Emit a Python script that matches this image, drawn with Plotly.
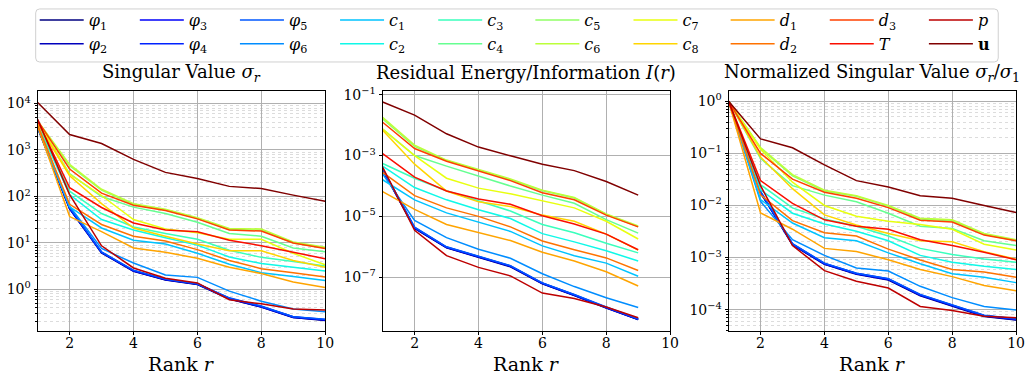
import plotly.graph_objects as go

# ---------------- data ----------------
ranks = [1, 2, 3, 4, 5, 6, 7, 8, 9, 10]
ranks_res = [1, 2, 3, 4, 5, 6, 7, 8, 9]

series_labels = [
    "<i>φ</i><sub>1</sub>", "<i>φ</i><sub>2</sub>", "<i>φ</i><sub>3</sub>",
    "<i>φ</i><sub>4</sub>", "<i>φ</i><sub>5</sub>", "<i>φ</i><sub>6</sub>",
    "<i>c</i><sub>1</sub>", "<i>c</i><sub>2</sub>", "<i>c</i><sub>3</sub>",
    "<i>c</i><sub>4</sub>", "<i>c</i><sub>5</sub>", "<i>c</i><sub>6</sub>",
    "<i>c</i><sub>7</sub>", "<i>c</i><sub>8</sub>",
    "<i>d</i><sub>1</sub>", "<i>d</i><sub>2</sub>", "<i>d</i><sub>3</sub>",
    "<i>T</i>", "<i>p</i>", "<b>u</b>",
]

# Singular value sigma_r
sv_phi1 = [2950, 54, 6.1, 2.45, 1.60, 1.28, 0.62, 0.42, 0.250, 0.215]
sv_phi2 = [3050, 55, 6.2, 2.50, 1.62, 1.30, 0.63, 0.42, 0.250, 0.220]
sv_phi3 = [3150, 56, 6.3, 2.52, 1.64, 1.31, 0.64, 0.43, 0.255, 0.220]
sv_phi4 = [3250, 57, 6.35, 2.55, 1.65, 1.32, 0.65, 0.43, 0.260, 0.225]
sv_phi5 = [3350, 58, 6.4, 2.60, 1.67, 1.33, 0.66, 0.44, 0.260, 0.230]
sv_phi6 = [3000, 62, 7.6, 3.70, 2.05, 1.82, 0.92, 0.56, 0.38, 0.33]
sv_c1 = [3300, 60, 21, 11.5, 9.5, 6.0, 3.5, 2.3, 1.9, 1.55]
sv_c2 = [3500, 110, 32, 19, 13, 9.0, 5.0, 3.6, 3.0, 2.5]
sv_c3 = [3600, 130, 43, 22, 16, 12, 7.0, 4.9, 4.0, 3.2]
sv_c4 = [3900, 310, 100, 59, 43, 28, 16, 14, 7.8, 6.5]
sv_c5 = [4000, 460, 138, 67, 51, 34, 19.5, 19, 10.0, 7.8]
sv_c6 = [4200, 490, 143, 70, 53, 35, 20.5, 20, 10.5, 8.1]
sv_c7 = [4100, 300, 105, 32, 20, 16.5, 12, 12, 6.0, 3.4]
sv_c8 = [3700, 280, 70, 21, 14, 9.5, 6.8, 6.8, 4.2, 3.0]
sv_d1 = [3200, 37, 17.5, 7.8, 6.3, 4.7, 3.0, 2.2, 1.45, 1.1]
sv_d2 = [3400, 68, 25, 14, 11, 7.2, 4.2, 2.8, 2.3, 1.85]
sv_d3 = [4300, 390, 118, 65, 50, 33, 19, 18, 10.0, 7.6]
sv_T = [4200, 155, 58, 27, 19, 17.5, 11.5, 8.7, 6.3, 4.6]
sv_p = [4600, 110, 8.7, 2.9, 1.75, 1.38, 0.60, 0.49, 0.38, 0.36]
sv_u = [10500, 2150, 1380, 630, 330, 245, 165, 148, 107, 79]

# Residual energy / information I(r)
ri_phi1 = [3.3e-4, 4.0e-6, 9.2e-7, 4.4e-7, 2.20e-7, 6.0e-8, 2.50e-8, 9.6e-9, 4.0e-9]
ri_phi2 = [3.4e-4, 4.1e-6, 9.4e-7, 4.5e-7, 2.25e-7, 6.1e-8, 2.55e-8, 9.8e-9, 4.05e-9]
ri_phi3 = [3.5e-4, 4.2e-6, 9.6e-7, 4.6e-7, 2.30e-7, 6.3e-8, 2.60e-8, 1.0e-8, 4.1e-9]
ri_phi4 = [3.6e-4, 4.3e-6, 9.8e-7, 4.7e-7, 2.35e-7, 6.4e-8, 2.65e-8, 1.0e-8, 4.2e-9]
ri_phi5 = [3.7e-4, 4.4e-6, 1.0e-6, 4.8e-7, 2.40e-7, 6.5e-8, 2.70e-8, 1.05e-8, 4.3e-9]
ri_phi6 = [2.5e-4, 7.3e-6, 2.0e-6, 8.3e-7, 4.2e-7, 1.3e-7, 4.9e-8, 2.1e-8, 1.0e-8]
ri_c1 = [1.6e-4, 3.5e-5, 1.3e-5, 6.5e-6, 3.2e-6, 1.07e-6, 5.1e-7, 2.9e-7, 1.07e-7]
ri_c2 = [4.5e-4, 8.9e-5, 3.5e-5, 1.65e-5, 8.5e-6, 2.7e-6, 1.45e-6, 7.4e-7, 3.4e-7]
ri_c3 = [5.5e-4, 1.8e-4, 7.0e-5, 3.3e-5, 1.5e-5, 5.4e-6, 2.9e-6, 1.3e-6, 6.3e-7]
ri_c4 = [7.4e-3, 1.0e-3, 4.5e-4, 2.1e-4, 1.0e-4, 5.0e-5, 2.7e-5, 7.8e-6, 2.8e-6]
ri_c5 = [1.6e-2, 2.0e-3, 6.8e-4, 3.3e-4, 1.6e-4, 7.0e-5, 4.0e-5, 1.15e-5, 4.6e-6]
ri_c6 = [1.8e-2, 2.2e-3, 7.1e-4, 3.5e-4, 1.7e-4, 7.3e-5, 4.2e-5, 1.2e-5, 4.8e-6]
ri_c7 = [7.5e-3, 1.0e-3, 1.8e-4, 8.5e-5, 5.5e-5, 3.2e-5, 1.9e-5, 6.9e-6, 1.8e-6]
ri_c8 = [6.8e-3, 5.2e-4, 6.8e-5, 3.0e-5, 2.1e-5, 1.1e-5, 6.9e-6, 2.6e-6, 7.8e-7]
ri_d1 = [6.5e-5, 1.7e-5, 5.4e-6, 3.0e-6, 1.6e-6, 6.6e-7, 3.4e-7, 1.5e-7, 5.1e-8]
ri_d2 = [2.8e-4, 4.8e-5, 1.9e-5, 1.0e-5, 4.5e-6, 1.55e-6, 8.0e-7, 4.3e-7, 1.65e-7]
ri_d3 = [1.25e-2, 1.7e-3, 6.5e-4, 3.2e-4, 1.5e-4, 6.0e-5, 3.5e-5, 1.1e-5, 4.5e-6]
ri_T = [1.15e-3, 1.95e-4, 6.8e-5, 3.7e-5, 2.5e-5, 1.05e-5, 5.6e-6, 2.6e-6, 8.0e-7]
ri_p = [4.2e-4, 3.5e-6, 5.1e-7, 2.1e-7, 1.1e-7, 3.0e-8, 2.0e-8, 1.05e-8, 4.6e-9]
ri_u = [5.8e-2, 2.15e-2, 5.2e-3, 1.9e-3, 9.8e-4, 5.2e-4, 3.2e-4, 1.4e-4, 5.0e-5]

# Normalized singular value sigma_r / sigma_1
ns_phi1 = [1, 0.0175, 0.00175, 0.00074, 0.00048, 0.00037, 0.000185, 0.000118, 0.000074, 0.000063]
ns_phi2 = [1, 0.0178, 0.00178, 0.00075, 0.00049, 0.00038, 0.000188, 0.000120, 0.000075, 0.000064]
ns_phi3 = [1, 0.0180, 0.00180, 0.00076, 0.00049, 0.00038, 0.000190, 0.000121, 0.000076, 0.000065]
ns_phi4 = [1, 0.0183, 0.00182, 0.00077, 0.00050, 0.00039, 0.000193, 0.000123, 0.000077, 0.000066]
ns_phi5 = [1, 0.0186, 0.00185, 0.00078, 0.00050, 0.00039, 0.000196, 0.000125, 0.000078, 0.000067]
ns_phi6 = [1, 0.0120, 0.0022, 0.0011, 0.00063, 0.00055, 0.00028, 0.00017, 0.000115, 0.000098]
ns_c1 = [1, 0.0130, 0.0046, 0.0024, 0.0021, 0.00123, 0.00076, 0.00049, 0.00042, 0.00033]
ns_c2 = [1, 0.020, 0.0071, 0.0044, 0.0032, 0.0021, 0.0011, 0.00081, 0.00068, 0.00059]
ns_c3 = [1, 0.025, 0.0090, 0.0055, 0.0040, 0.0026, 0.0015, 0.00114, 0.00094, 0.00081]
ns_c4 = [1, 0.080, 0.024, 0.0158, 0.0118, 0.0071, 0.0040, 0.0036, 0.0021, 0.0017]
ns_c5 = [1, 0.125, 0.037, 0.0190, 0.0150, 0.0097, 0.0055, 0.0051, 0.0028, 0.0021]
ns_c6 = [1, 0.130, 0.039, 0.0196, 0.0154, 0.0100, 0.0057, 0.0053, 0.0029, 0.0022]
ns_c7 = [1, 0.120, 0.028, 0.0100, 0.0062, 0.0050, 0.0043, 0.0035, 0.0018, 0.0014]
ns_c8 = [1, 0.085, 0.021, 0.0066, 0.0042, 0.0029, 0.0021, 0.0020, 0.0013, 0.00093]
ns_d1 = [1, 0.0072, 0.0035, 0.0015, 0.0013, 0.00091, 0.00059, 0.00043, 0.00029, 0.00023]
ns_d2 = [1, 0.016, 0.0051, 0.0030, 0.0026, 0.00145, 0.00090, 0.00059, 0.00053, 0.00042]
ns_d3 = [1, 0.100, 0.032, 0.0180, 0.0137, 0.0091, 0.0052, 0.0048, 0.0027, 0.0021]
ns_T = [1, 0.030, 0.011, 0.0053, 0.0040, 0.0035, 0.0022, 0.0017, 0.00126, 0.00091]
ns_p = [1, 0.024, 0.0017, 0.00056, 0.00035, 0.00026, 0.000115, 0.000096, 0.000075, 0.000070]
ns_u = [1, 0.19, 0.128, 0.060, 0.030, 0.0227, 0.0154, 0.0137, 0.010, 0.0073]

sv_all = [sv_phi1, sv_phi2, sv_phi3, sv_phi4, sv_phi5, sv_phi6, sv_c1, sv_c2, sv_c3, sv_c4,
          sv_c5, sv_c6, sv_c7, sv_c8, sv_d1, sv_d2, sv_d3, sv_T, sv_p, sv_u]
ri_all = [ri_phi1, ri_phi2, ri_phi3, ri_phi4, ri_phi5, ri_phi6, ri_c1, ri_c2, ri_c3, ri_c4,
          ri_c5, ri_c6, ri_c7, ri_c8, ri_d1, ri_d2, ri_d3, ri_T, ri_p, ri_u]
ns_all = [ns_phi1, ns_phi2, ns_phi3, ns_phi4, ns_phi5, ns_phi6, ns_c1, ns_c2, ns_c3, ns_c4,
          ns_c5, ns_c6, ns_c7, ns_c8, ns_d1, ns_d2, ns_d3, ns_T, ns_p, ns_u]

panel_titles = [
    "Singular Value <i>σ</i><sub><i>r</i></sub>",
    "Residual Energy/Information <i>I</i>(<i>r</i>)",
    "Normalized Singular Value <i>σ</i><sub><i>r</i></sub>/<i>σ</i><sub>1</sub>",
]


# ---------------- style helpers ----------------
def jet(x):
    def interp(pts, v):
        for (x0, y0), (x1, y1) in zip(pts[:-1], pts[1:]):
            if x0 <= v <= x1:
                return y0 if x1 == x0 else y0 + (y1 - y0) * (v - x0) / (x1 - x0)
        return pts[-1][1]
    r = interp([(0, 0), (0.35, 0), (0.66, 1), (0.89, 1), (1, 0.5)], x)
    g = interp([(0, 0), (0.125, 0), (0.375, 1), (0.64, 1), (0.91, 0), (1, 0)], x)
    b = interp([(0, 0.5), (0.11, 1), (0.34, 1), (0.65, 0), (1, 0)], x)
    return "rgb(%d,%d,%d)" % (round(r * 255), round(g * 255), round(b * 255))


n = len(series_labels)
colors = [jet(i / (n - 1)) for i in range(n)]

W, H = 1035, 383
FONT = "DejaVu Serif"
x_dom = [(38, 328), (386, 676), (735, 1025)]
y_top, y_bot = 86, 330

fig = go.Figure()

for k, (xs, data) in enumerate([(ranks, sv_all), (ranks_res, ri_all), (ranks, ns_all)]):
    sfx = "" if k == 0 else str(k + 1)
    for i in range(n):
        col_idx = i // 2
        leg = "legend" if col_idx == 0 else "legend%d" % (col_idx + 1)
        fig.add_trace(go.Scatter(
            x=xs, y=data[i], mode="lines", name=series_labels[i],
            line=dict(color=colors[i], width=1.5),
            xaxis="x" + sfx, yaxis="y" + sfx,
            showlegend=(k == 0), legend=leg, legendgroup=str(i),
            hoverinfo="skip",
        ))


def minor_vals(lo, hi):
    vals = []
    for e in range(lo, hi + 1):
        for m in range(2, 10):
            vals.append(m * 10.0 ** e)
    return vals


axis_common = dict(
    showline=True, linecolor="black", linewidth=1.2, mirror=True,
    ticks="outside", ticklen=3, tickcolor="black",
    gridcolor="#b0b0b0", gridwidth=1, zeroline=False,
    tickfont=dict(family=FONT, size=14, color="black"),
)

def sup(e):
    return "10<sup>%s</sup>" % (str(e).replace("-", "−"))

y_specs = [
    dict(range=[-0.893, 4.26], exps=[0, 1, 2, 3, 4], minor=(-1, 4)),
    dict(range=[-8.77, -0.89], exps=[-1, -3, -5, -7], minor=None),
    dict(range=[-4.41, 0.19], exps=[0, -1, -2, -3, -4], minor=(-5, 0)),
]

layout = dict(
    width=W, height=H, margin=dict(l=0, r=0, t=0, b=0),
    plot_bgcolor="white", paper_bgcolor="white",
    font=dict(family=FONT, color="black"),
)

for k in range(3):
    sfx = "" if k == 0 else str(k + 1)
    x0, x1 = x_dom[k]
    layout["xaxis" + sfx] = dict(
        axis_common, domain=[x0 / W, x1 / W], range=[1, 10],
        tickvals=[2, 4, 6, 8, 10], anchor="y" + sfx, showgrid=True,
        ticklabelstandoff=-4,
    )
    spec = y_specs[k]
    yax = dict(
        axis_common, type="log", domain=[1 - y_bot / H, 1 - y_top / H],
        range=spec["range"], tickvals=[10.0 ** e for e in spec["exps"]],
        ticktext=[sup(e) for e in spec["exps"]], anchor="x" + sfx, showgrid=True,
    )
    if spec["minor"]:
        yax["minor"] = dict(
            tickmode="array", tickvals=minor_vals(*spec["minor"]),
            ticks="outside", ticklen=2, tickcolor="black",
            showgrid=True, gridcolor="#dcdcdc", griddash="dot", gridwidth=1,
        )
    layout["yaxis" + sfx] = yax

annotations = []
for k in range(3):
    x0, x1 = x_dom[k]
    annotations.append(dict(
        text=panel_titles[k], x=(x0 + x1) / 2 / W, y=1 - 67 / H,
        xref="paper", yref="paper", xanchor="center", yanchor="middle",
        showarrow=False, font=dict(family=FONT, size=18, color="black"),
    ))
    annotations.append(dict(
        text="Rank <i>r</i>", x=(x0 + x1) / 2 / W, y=1 - 364 / H,
        xref="paper", yref="paper", xanchor="center", yanchor="middle",
        showarrow=False, font=dict(family=FONT, size=19, color="black"),
    ))
layout["annotations"] = annotations

leg_x = [42, 143, 244, 345, 444, 542, 641, 739, 839, 939]
for c, lx in enumerate(leg_x):
    key = "legend" if c == 0 else "legend%d" % (c + 1)
    layout[key] = dict(
        x=(lx - 7) / W, y=1 + 4 / H, xanchor="left", yanchor="top",
        orientation="v", bgcolor="rgba(0,0,0,0)", borderwidth=0,
        font=dict(family=FONT, size=16, color="black"),
        itemwidth=44, tracegroupgap=0, itemclick=False, itemdoubleclick=False,
    )

# rounded legend frame
bx0, bx1, by0, by1, rr = 36, 1007, 2, 56, 4
def px(x):
    return x / W
def py(y):
    return 1 - y / H
path = ("M %f,%f L %f,%f Q %f,%f %f,%f L %f,%f Q %f,%f %f,%f L %f,%f Q %f,%f %f,%f "
        "L %f,%f Q %f,%f %f,%f Z") % (
    px(bx0 + rr), py(by0), px(bx1 - rr), py(by0), px(bx1), py(by0), px(bx1), py(by0 + rr),
    px(bx1), py(by1 - rr), px(bx1), py(by1), px(bx1 - rr), py(by1),
    px(bx0 + rr), py(by1), px(bx0), py(by1), px(bx0), py(by1 - rr),
    px(bx0), py(by0 + rr), px(bx0), py(by0), px(bx0 + rr), py(by0))
layout["shapes"] = [dict(type="path", path=path, xref="paper", yref="paper",
                         line=dict(color="#d0d0d0", width=1), layer="below")]

fig.update_layout(**layout)
fig.write_html("out.html")
